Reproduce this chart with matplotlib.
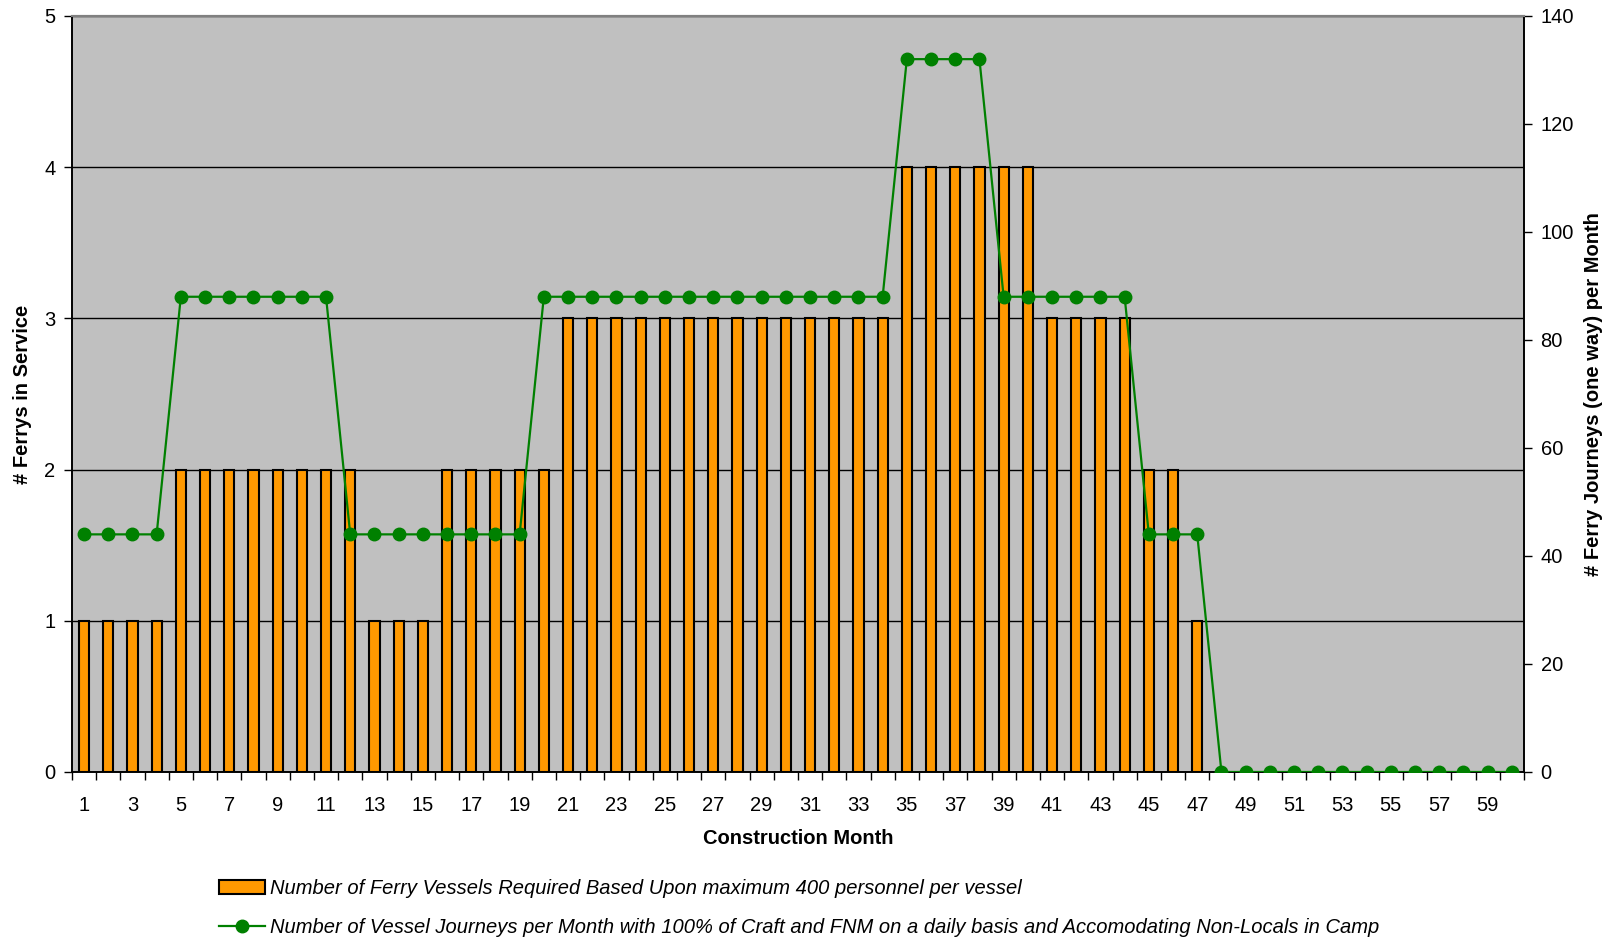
import matplotlib
matplotlib.use('Agg')
import matplotlib.pyplot as plt
import numpy as np
from matplotlib.ticker import FixedLocator, MultipleLocator

plt.rcParams['font.family'] = ['Liberation Sans', 'DejaVu Sans']

# monthly figures for the construction programme
months = list(range(1, 61))
ferries = [1, 1, 1, 1,
           2, 2, 2, 2, 2, 2, 2, 2,
           1, 1, 1,
           2, 2, 2, 2, 2,
           3, 3, 3, 3, 3, 3, 3, 3, 3, 3, 3, 3, 3, 3,
           4, 4, 4, 4, 4, 4,
           3, 3, 3, 3,
           2, 2,
           1] + [0] * 13
journeys = [44, 44, 44, 44,
            88, 88, 88, 88, 88, 88, 88,
            44, 44, 44, 44, 44, 44, 44, 44,
            88, 88, 88, 88, 88, 88, 88, 88, 88, 88, 88, 88, 88, 88, 88,
            132, 132, 132, 132,
            88, 88, 88, 88, 88, 88,
            44, 44, 44] + [0] * 13

bar_label = 'Number of Ferry Vessels Required Based Upon maximum 400 personnel per vessel'
line_label = ('Number of Vessel Journeys per Month with 100% of Craft and FNM on a daily '
              'basis and Accomodating Non-Locals in Camp')

FS = 14.5

fig = plt.figure(figsize=(16.2, 9.38), dpi=100)
ax = fig.add_axes([0.0444, 0.177, 0.8963, 0.806])
ax.set_facecolor('#c0c0c0')

bars = ax.bar(months, ferries, width=0.42, color='#ff9900', edgecolor='black',
              linewidth=1.5, zorder=3, label=bar_label)
ax.set_xlim(0.5, 60.5)
ax.set_ylim(0, 5)
ax.set_yticks(range(0, 6))
ax.yaxis.grid(True, color='black', linewidth=1)
ax.set_axisbelow(True)

# labels on odd months, tick marks on the category boundaries
ax.xaxis.set_major_locator(FixedLocator(range(1, 61, 2)))
ax.xaxis.set_minor_locator(FixedLocator(np.arange(0.5, 61, 1)))
ax.tick_params(axis='x', which='major', length=0, pad=17, labelsize=FS)
ax.tick_params(axis='x', which='minor', length=6, width=1, direction='out')
ax.tick_params(axis='y', length=6, width=1, labelsize=FS, pad=6)

ax.set_xlabel('Construction Month', fontsize=FS, fontweight='bold', va='center')
ax.xaxis.set_label_coords(0.5, -0.088)
ax.set_ylabel('# Ferrys in Service', fontsize=FS, fontweight='bold', va='center')
ax.yaxis.set_label_coords(-0.034, 0.5)

ax2 = ax.twinx()
line, = ax2.plot(months, journeys, color='#008000', linewidth=1.6, marker='o',
                 markersize=9, label=line_label, zorder=4)
ax2.set_ylim(0, 140)
ax2.yaxis.set_major_locator(MultipleLocator(20))
ax2.tick_params(axis='y', length=6, width=1, labelsize=FS, pad=6)
ax2.set_ylabel('# Ferry Journeys (one way) per Month', fontsize=FS,
               fontweight='bold', va='center')
ax2.yaxis.set_label_coords(1.048, 0.5)

for a in (ax, ax2):
    a.spines['top'].set_color('#808080')
    a.spines['top'].set_linewidth(1.5)
    for s in ('left', 'right', 'bottom'):
        a.spines[s].set_color('black')
        a.spines[s].set_linewidth(1.2)

fig.legend([bars, line], [bar_label, line_label], loc='lower left',
           bbox_to_anchor=(0.124, -0.018), bbox_transform=fig.transFigure,
           frameon=False, prop={'style': 'italic', 'size': FS},
           handlelength=2.3, handletextpad=0.25, labelspacing=1.0)

fig.savefig('out.png', dpi=100)
